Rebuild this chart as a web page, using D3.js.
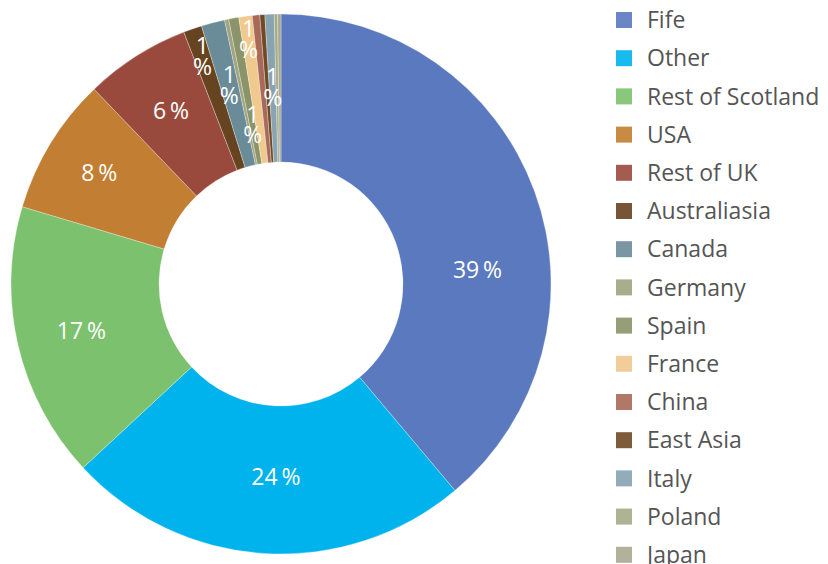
<!DOCTYPE html>
<html>
<head>
<meta charset="utf-8">
<script src="https://cdn.jsdelivr.net/npm/d3@7"></script>
<style>
  body { margin: 0; background: #fff; }
  svg { display: block; font-family: "Open Sans", Lato, sans-serif; }
</style>
</head>
<body>
<svg width="828" height="564"></svg>
<script>
// shares (percent)
const categories = ["Fife", "Other", "Rest of Scotland", "USA", "Rest of UK", "Australiasia",
  "Canada", "Germany", "Spain", "France", "China", "East Asia", "Italy", "Poland", "Japan"];
const values = [38.8, 24.2, 16.5, 8.2, 6.3, 1.1, 1.4, 0.25, 0.6, 0.8, 0.45, 0.3, 0.55, 0.2, 0.2];
const colors = ["#5b79bf", "#00b3ec", "#7cc16e", "#c27e32", "#9a4a3d", "#674420",
  "#6a8b98", "#a0a47f", "#8a9468", "#f0c98e", "#a9695a", "#6f4a24", "#88a3b1", "#a4ab87", "#aaa98f"];

const cx = 281, cy = 284;
const outerR = 270, innerR = 122;

const svg = d3.select("svg");

const total = d3.sum(values);
const data = categories.map((c, i) => ({ name: c, value: values[i], color: colors[i] }));

const pie = d3.pie()
  .value(d => d.value)
  .sort(null);

const arc = d3.arc()
  .innerRadius(innerR)
  .outerRadius(outerR);

const arcs = pie(data);

const chart = svg.append("g")
  .attr("transform", `translate(${cx}, ${cy})`);

// slices
chart.selectAll(".slice")
  .data(arcs)
  .enter()
  .append("path")
  .attr("class", "slice")
  .attr("d", arc)
  .attr("fill", d => d.data.color)
  .attr("stroke", "#fff")
  .attr("stroke-width", 0.5)
  .attr("stroke-opacity", 0.6);

// labels: big slices on one line, thin slices wrapped as "1" / "%"
const smallRadii = [240, 205, 161, 246, 196];
let k = 0;
arcs.forEach((d, i) => {
  const pct = Math.round(d.data.value / total * 100);
  if (pct < 1) return;
  const span = d.endAngle - d.startAngle;
  let a = (d.startAngle + d.endAngle) / 2;
  let r = 205;
  if (i === 0) { a = d.startAngle + span * 0.615; r = 197; }
  if (i === 1) { a -= 0.035; r = 193; }
  if (i === 3) r = 213;
  const small = span < 0.1;
  if (small) { r = smallRadii[k % smallRadii.length]; k++; }
  const x = Math.sin(a) * r;
  const y = -Math.cos(a) * r;
  const t = chart.append("text")
    .attr("text-anchor", "middle")
    .attr("fill", "#fff")
    .attr("font-size", 23)
    .attr("x", x)
    .attr("y", y);
  if (small) {
    t.append("tspan").attr("x", x).attr("dy", "-0.12em").text(pct);
    t.append("tspan").attr("x", x).attr("dy", "0.9em").text("%");
  } else {
    t.attr("dy", "0.35em").text(pct + "\u2009%");
  }
});

// legend
const legend = svg.append("g")
  .attr("transform", "translate(616, 20)");

const row = legend.selectAll(".item")
  .data(data)
  .enter()
  .append("g")
  .attr("class", "item")
  .attr("transform", (d, i) => `translate(0, ${i * 38.2})`);

row.append("rect")
  .attr("x", 0)
  .attr("y", -8)
  .attr("width", 16)
  .attr("height", 16)
  .attr("fill", d => d.color)
  .attr("opacity", 0.9);

row.append("text")
  .attr("x", 31)
  .attr("dy", "0.36em")
  .attr("font-size", 23)
  .attr("fill", "#555")
  .text(d => d.name);
</script>
</body>
</html>
